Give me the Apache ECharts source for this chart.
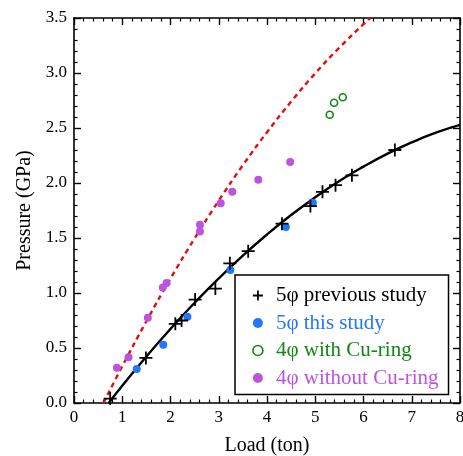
<!DOCTYPE html>
<html>
<head>
<meta charset="utf-8">
<script src="https://cdn.jsdelivr.net/npm/echarts@6/dist/echarts.min.js"></script>
<style>html,body{margin:0;padding:0;background:#fff;}#c{width:463px;height:456px;}</style>
</head>
<body>
<div id="c"></div>
<script>
// Data
var prevStudy = [[0.75,0.04],[1.49,0.41],[2.10,0.72],[2.23,0.75],[2.51,0.94],[2.93,1.04],[3.23,1.27],[3.61,1.38],[4.31,1.63],[4.90,1.79],[5.15,1.92],[5.42,1.98],[5.76,2.07],[6.65,2.30]];
var thisStudy = [[1.30,0.31],[1.85,0.53],[2.35,0.785],[3.24,1.21],[4.39,1.60],[4.95,1.82]];
var withCu = [[5.30,2.62],[5.39,2.73],[5.57,2.78]];
var withoutCu = [[0.89,0.32],[1.13,0.415],[1.53,0.775],[1.84,1.05],[1.92,1.09],[2.61,1.56],[2.61,1.62],[3.04,1.815],[3.28,1.92],[3.82,2.03],[4.48,2.19]];
var fitBlack = [[0.72,0],[1.0,0.156],[1.5,0.423],[2.0,0.674],[2.5,0.911],[3.0,1.133],[3.5,1.340],[4.0,1.532],[4.5,1.709],[5.0,1.870],[5.5,2.018],[6.0,2.149],[6.5,2.267],[7.0,2.369],[7.5,2.457],[8.0,2.528]];
var fitRed = [[0.61,0],[1.0,0.334],[1.5,0.743],[2.0,1.131],[2.5,1.496],[3.0,1.840],[3.5,2.162],[4.0,2.462],[4.5,2.740],[5.0,2.997],[5.5,3.231],[6.0,3.444],[6.14,3.5]];
var names = ['5\u03c6 previous study','5\u03c6 this study','4\u03c6 with Cu-ring','4\u03c6 without Cu-ring'];
var colors = ['#000000','#2277ff','#118811','#bb55dd'];

var font = 'Liberation Serif, Times New Roman, serif';
var crossPath = 'path://M0,5L10,5M5,0L5,10';
var chart = echarts.init(document.getElementById('c'), null, {renderer:'canvas'});
function axisCommon(showLabel){
  return {
    axisLine:{show:true,onZero:false,lineStyle:{color:'#000',width:1.6}},
    axisTick:{show:true,inside:true,length:7,lineStyle:{color:'#000',width:1.4}},
    minorTick:{show:true,splitNumber:5,length:3.5,lineStyle:{color:'#000',width:1.2}},
    splitLine:{show:false},
    axisLabel:{show:showLabel,color:'#000',fontFamily:font,fontSize:17}
  };
}
var xb = Object.assign({type:'value',min:0,max:8,interval:1,position:'bottom',
  name:'Load (ton)',nameLocation:'middle',nameGap:33,nameTextStyle:{color:'#000',fontFamily:font,fontSize:20}}, axisCommon(true));
xb.axisLabel.margin = 6;
var xt = Object.assign({type:'value',min:0,max:8,interval:1,position:'top'}, axisCommon(false));
var yl = Object.assign({type:'value',min:0,max:3.5,interval:0.5,position:'left',
  name:'Pressure (GPa)',nameLocation:'middle',nameGap:39,nameTextStyle:{color:'#000',fontFamily:font,fontSize:20}}, axisCommon(true));
yl.axisLabel.formatter = function(v){return v.toFixed(1);};
yl.axisLabel.margin = 7;
var yr = Object.assign({type:'value',min:0,max:3.5,interval:0.5,position:'right'}, axisCommon(false));

chart.setOption({
  animation:false,
  grid:{left:74,top:18,width:386,height:385,containLabel:false,outerBoundsMode:'none'},
  xAxis:[xb,xt],
  yAxis:[yl,yr],
  legend:{
    left:235, top:275, orient:'vertical',
    backgroundColor:'#fff', borderColor:'#000', borderWidth:1.5,
    padding:[10,10,6,17], itemGap:6.5, itemWidth:26, itemHeight:10,
    textStyle:{fontFamily:font,fontSize:21,lineHeight:21},
    data:[
      {name:names[0],icon:crossPath,itemStyle:{color:'transparent',borderColor:'#000',borderWidth:1.8},textStyle:{color:colors[0]}},
      {name:names[1],icon:'circle',itemStyle:{color:colors[1]},textStyle:{color:colors[1]}},
      {name:names[2],icon:'circle',itemStyle:{color:'#fff',borderColor:colors[2],borderWidth:1.6},textStyle:{color:colors[2]}},
      {name:names[3],icon:'circle',itemStyle:{color:colors[3]},textStyle:{color:colors[3]}}
    ]
  },
  series:[
    {type:'line',data:fitRed,smooth:true,symbol:'none',lineStyle:{color:'#e01010',width:2.4,type:[5,4]},z:1,silent:true},
    {type:'line',data:fitBlack,smooth:true,symbol:'none',lineStyle:{color:'#000',width:2.4},z:1,silent:true},
    {name:names[3],type:'scatter',data:withoutCu,symbol:'circle',symbolSize:8,itemStyle:{color:colors[3],opacity:1},z:3},
    {name:names[2],type:'scatter',data:withCu,symbol:'circle',symbolSize:7,itemStyle:{color:'#fff',borderColor:colors[2],borderWidth:1.6,opacity:1},z:3},
    {name:names[1],type:'scatter',data:thisStudy,symbol:'circle',symbolSize:8,itemStyle:{color:colors[1],opacity:1},z:4},
    {name:names[0],type:'scatter',data:prevStudy,symbol:crossPath,symbolSize:13,itemStyle:{color:'transparent',borderColor:'#000',borderWidth:1.8,opacity:1},z:5}
  ]
});
</script>
</body>
</html>
